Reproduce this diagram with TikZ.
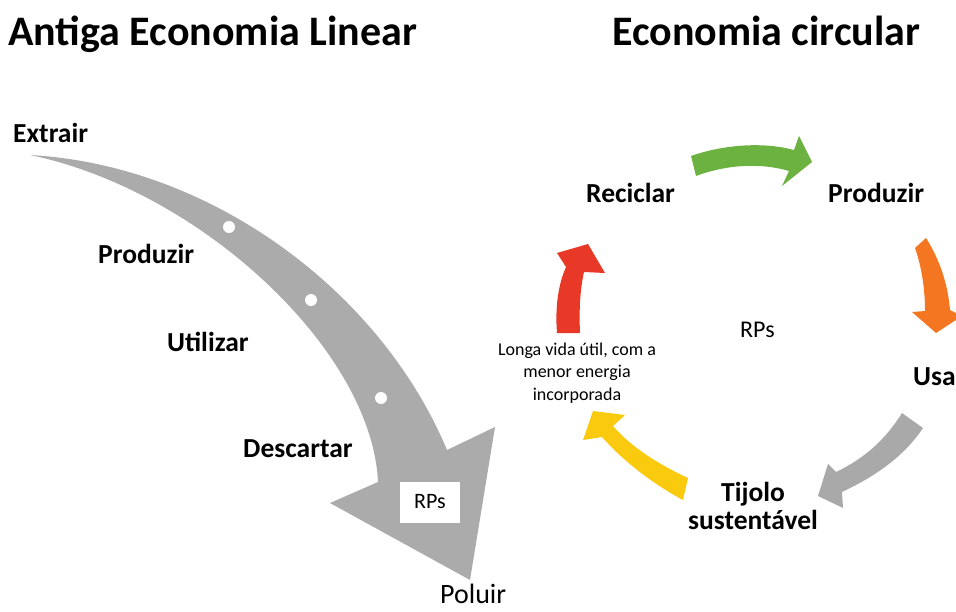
\documentclass[tikz,border=0pt]{standalone}
\usepackage{fontspec}
\setmainfont{Carlito}
\definecolor{lineGray}{RGB}{171,171,171}
\definecolor{cycGreen}{RGB}{108,178,64}
\definecolor{cycOrange}{RGB}{244,118,32}
\definecolor{cycGray}{RGB}{169,169,169}
\definecolor{cycYellow}{RGB}{250,202,14}
\definecolor{cycRed}{RGB}{232,56,40}
\tikzset{
  ttl/.style={font=\bfseries\fontsize{42}{48}\selectfont,inner sep=0pt,anchor=base west},
  lbl/.style={font=\bfseries\fontsize{27.5}{32}\selectfont,inner sep=0pt,anchor=base west},
  txt/.style={font=\fontsize{24}{28}\selectfont,inner sep=0pt,anchor=base west},
  note/.style={font=\fontsize{18}{22.5}\selectfont,inner sep=0pt,align=center},
  dot/.style={circle,fill=white,minimum size=12pt,inner sep=0pt}
}

\begin{document}
\begin{tikzpicture}[x=1pt,y=-1pt]
      \clip (0,0) rectangle (956,611);

      % titulos
      \node[ttl] (tLin) at (8,45) {Antiga Economia Linear};
      \node[ttl] (tCirc) at (612,45) {Economia circular};

      % economia linear
      \fill[lineGray] (30,155) .. controls (210,165) and (380,290) .. (447,450)
        -- (495,427) -- (470,580) -- (330,503) -- (378,482)
        .. controls (372,350) and (200,190) .. (30,155) -- cycle;
      \node[dot] (d1) at (229,227) {};
      \node[dot] (d2) at (311,300) {};
      \node[dot] (d3) at (381,398) {};
      \node[fill=white,minimum width=60pt,minimum height=41pt,inner sep=0pt,
        font=\fontsize{22}{26}\selectfont] (rpsLin) at (430,502) {RPs};

      \node[lbl] (extrair) at (13,142) {Extrair};
      \node[lbl] (produzirL) at (98,263) {Produzir};
      \node[lbl] (utilizar) at (167,351) {Utilizar};
      \node[lbl] (descartar) at (243,457) {Descartar};
      \node[txt,font=\fontsize{28}{32}\selectfont] (poluir) at (440,603) {Poluir};

      % economia circular
      \fill[cycGreen] (691,156) .. controls (725,144) and (765,142) .. (794,150) -- (799,136) -- (812,162)
        -- (782,186) -- (789,171) .. controls (762,163) and (728,164) .. (696,176) -- cycle;
      \fill[cycOrange] (926,238) .. controls (940,260) and (948,285) .. (950,310) -- (962,316) -- (936,333)
        -- (912,312) -- (925,311) .. controls (925,290) and (922,268) .. (915,248) -- cycle;
      \fill[cycGray] (902,413) .. controls (885,440) and (865,458) .. (836,472) -- (828,464) -- (818,496)
        -- (843,508) -- (842,492) .. controls (878,475) and (905,455) .. (923,428) -- cycle;
      \fill[cycYellow] (688,478) .. controls (660,465) and (632,448) .. (613,426) -- (625,415) -- (593,411)
        -- (583,440) -- (602,437) .. controls (625,463) and (655,485) .. (683,500) -- cycle;
      \fill[cycRed] (557,333) .. controls (555,308) and (558,285) .. (566,267) -- (557,253) -- (588,244)
        -- (605,273) -- (584,272) .. controls (580,290) and (579,310) .. (580,333) -- cycle;

      \node[lbl] (reciclar) at (586,202) {Reciclar};
      \node[lbl] (produzirC) at (828,202) {Produzir};
      \node[lbl] (usa) at (913,385) {Usa};
      \node[lbl,anchor=center,align=center,font=\bfseries\fontsize{27.5}{28}\selectfont] (tijolo) at (753,506) {Tijolo\\sustentável};
      \node[txt] (rpsCirc) at (740,337) {RPs};
      \node[note] (longa) at (577,373) {Longa vida útil, com a\\menor energia\\incorporada};
    \end{tikzpicture}
\end{document}
